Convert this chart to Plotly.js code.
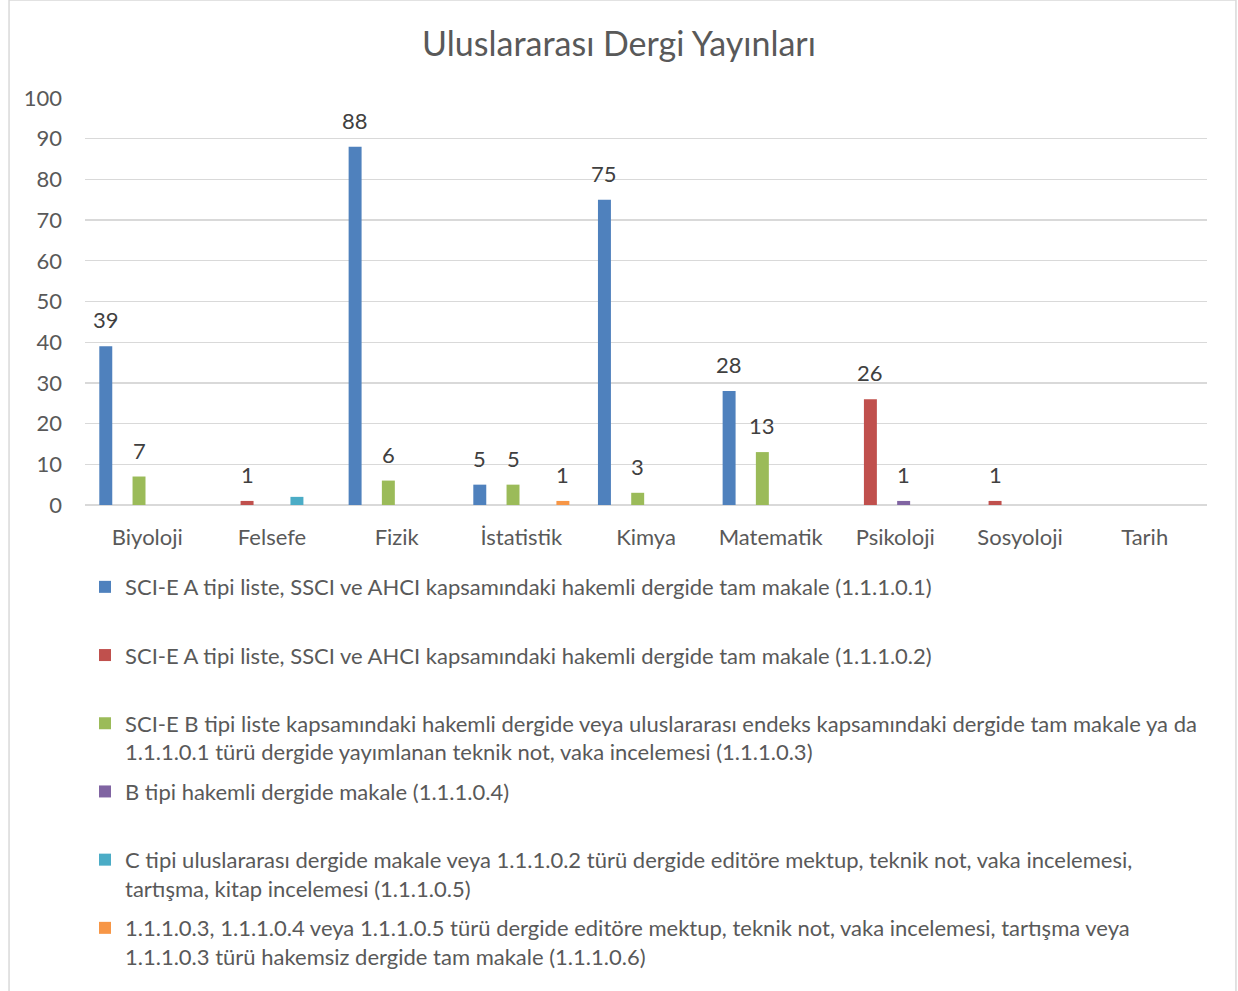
<!DOCTYPE html>
<html>
<head>
<meta charset="utf-8">
<script src="https://cdn.plot.ly/plotly-3.0.1.min.js"></script>
<style>html,body{margin:0;padding:0;background:#fff;}#chart{width:1238px;height:991px;}</style>
</head>
<body>
<div id="chart"></div>
<script>
const categories = ["Biyoloji","Felsefe","Fizik","İstatistik","Kimya","Matematik","Psikoloji","Sosyoloji","Tarih"];
const seriesNames = [
  "SCI-E A tipi liste, SSCI ve AHCI kapsamındaki hakemli dergide tam makale (1.1.1.0.1)<br> ",
  "SCI-E A tipi liste, SSCI ve AHCI kapsamındaki hakemli dergide tam makale (1.1.1.0.2)<br> ",
  "SCI-E B tipi liste kapsamındaki hakemli dergide veya uluslararası endeks kapsamındaki dergide tam makale ya da<br>1.1.1.0.1 türü dergide yayımlanan teknik not, vaka incelemesi (1.1.1.0.3)",
  "B tipi hakemli dergide makale (1.1.1.0.4)<br> ",
  "C tipi uluslararası dergide makale veya 1.1.1.0.2 türü dergide editöre mektup, teknik not, vaka incelemesi,<br>tartışma, kitap incelemesi (1.1.1.0.5)",
  "1.1.1.0.3, 1.1.1.0.4 veya 1.1.1.0.5 türü dergide editöre mektup, teknik not, vaka incelemesi, tartışma veya<br>1.1.1.0.3 türü hakemsiz dergide tam makale (1.1.1.0.6)"
];
const s1 = [39, 0, 88, 5, 75, 28, 0, 0, 0];
const s2 = [0, 1, 0, 0, 0, 0, 26, 1, 0];
const s3 = [7, 0, 6, 5, 3, 13, 0, 0, 0];
const s4 = [0, 0, 0, 0, 0, 0, 1, 0, 0];
const s5 = [0, 2, 0, 0, 0, 0, 0, 0, 0];
const s6 = [0, 0, 0, 1, 0, 0, 0, 0, 0];
// data labels shown in the reference (the cyan Felsefe bar has none)
const showLabel5 = [false, false, false, false, false, false, false, false, false];
const colors = ["#4f81bd","#c0504d","#9bbb59","#8064a2","#4bacc6","#f79646"];

const W = 1238, H = 991;
const M = {l: 85, r: 31, t: 98, b: 486};
const bargap = 0.2;

const allSeries = [s1, s2, s3, s4, s5, s6];
const traces = allSeries.map((vals, i) => ({
  type: "bar",
  name: seriesNames[i],
  x: categories,
  y: vals,
  marker: {color: colors[i]},
  hoverinfo: "x+y+name",
  legendgroup: "g" + i
}));

// data labels as annotations placed above each bar
const catW = (W - M.l - M.r) / categories.length;
const slot = catW * (1 - bargap) / allSeries.length;
const annotations = [];
allSeries.forEach((vals, i) => {
  vals.forEach((v, j) => {
    if (v > 0 && (i !== 4 || showLabel5[j])) {
      annotations.push({
        x: categories[j], y: v, xref: "x", yref: "y",
        text: String(v), showarrow: false,
        xanchor: "center", yanchor: "bottom",
        xshift: (i - (allSeries.length - 1) / 2) * slot,
        yshift: 11,
        font: {family: "Lato, sans-serif", size: 22, color: "#404040"}
      });
    }
  });
});

const layout = {
  width: W, height: H,
  margin: M,
  paper_bgcolor: "#ffffff",
  plot_bgcolor: "#ffffff",
  font: {family: "Lato, sans-serif", color: "#595959"},
  title: {text: "Uluslararası Dergi Yayınları", x: 0.5, xanchor: "center", y: 0.956, yanchor: "middle",
          font: {size: 34, color: "#595959", family: "Lato, sans-serif"}},
  barmode: "group",
  bargap: bargap,
  bargroupgap: 0.22,
  xaxis: {
    type: "category",
    showgrid: false, zeroline: false, showline: false,
    tickfont: {size: 22, color: "#595959"},
    ticks: "", ticklabelstandoff: 17
  },
  yaxis: {
    range: [0, 100], dtick: 10, tick0: 0,
    showgrid: true, gridcolor: "#d9d9d9", gridwidth: 1.3,
    zeroline: true, zerolinecolor: "#d9d9d9", zerolinewidth: 1.3,
    showline: false, ticks: "",
    tickfont: {size: 22, color: "#595959"},
    ticklabelstandoff: 22
  },
  showlegend: true,
  legend: {
    orientation: "v",
    x: 0.0, xanchor: "left",
    y: -0.15, yanchor: "top",
    valign: "top",
    font: {size: 22, color: "#595959", family: "Lato, sans-serif"},
    tracegroupgap: 8,
    itemwidth: 30,
    bgcolor: "rgba(0,0,0,0)"
  },
  annotations: annotations,
  shapes: [{
    type: "rect", xref: "paper", yref: "paper",
    x0: -0.0677, x1: 1.0258, y0: -1.3, y1: 1.2408,
    line: {color: "#d9d9d9", width: 1.5}, fillcolor: "rgba(0,0,0,0)", layer: "below"
  }]
};

Plotly.newPlot("chart", traces, layout, {displayModeBar: false, staticPlot: true});
</script>
</body>
</html>
